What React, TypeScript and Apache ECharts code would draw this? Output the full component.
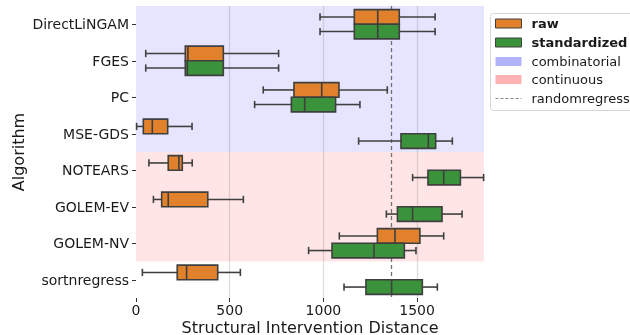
import React, { useEffect, useRef } from 'react';
import * as echarts from 'echarts';

const categories = ['DirectLiNGAM', 'FGES', 'PC', 'MSE-GDS', 'NOTEARS', 'GOLEM-EV', 'GOLEM-NV', 'sortnregress'];
// [whiskerLow, q1, median, q3, whiskerHigh]
const rawStats = [
  [982, 1165, 1290, 1405, 1596],
  [52, 263, 277, 466, 761],
  [679, 843, 991, 1083, 1341],
  [3, 39, 87, 169, 299],
  [69, 172, 229, 247, 300],
  [93, 137, 172, 383, 573],
  [1085, 1288, 1382, 1515, 1642],
  [34, 220, 270, 436, 557],
];
const stdStats = [
  [982, 1165, 1290, 1405, 1596],
  [52, 263, 274, 466, 761],
  [633, 829, 900, 1065, 1195],
  [1188, 1414, 1560, 1599, 1688],
  [1476, 1558, 1642, 1731, 1855],
  [1336, 1395, 1476, 1633, 1740],
  [921, 1046, 1270, 1432, 1494],
  [1110, 1227, 1364, 1528, 1608],
];
const groupNames = ['combinatorial', 'continuous'];
const groupStart = [0, 4];
const groupEnd = [3, 6];
const xTicks = [0, 500, 1000, 1500];
const gridTicks = [500, 1000, 1500];
const randomregress = 1360;
const xMax = 1857;

const ORANGE = '#e1812c';
const GREEN = '#3a923a';
const EDGE = '#3f3f3f';
const BAND_FILL = ['rgba(0,0,255,0.1)', 'rgba(255,0,0,0.1)'];
const LEGEND_FILL = ['rgba(0,0,255,0.3)', 'rgba(255,0,0,0.3)'];
const FONT = 'DejaVu Sans';

function makeBoxRender(side: number, color: string) {
  return (params: any, api: any) => {
    const cat = api.value(0);
    const low = api.coord([api.value(1), cat]);
    const q1 = api.coord([api.value(2), cat]);
    const med = api.coord([api.value(3), cat]);
    const q3 = api.coord([api.value(4), cat]);
    const high = api.coord([api.value(5), cat]);
    const band = api.size([0, 1])[1];
    const h = band * 0.4;
    const yc = low[1] + (side * h) / 2;
    const y0 = yc - h / 2;
    const cap = h / 4;
    const ls = { stroke: EDGE, lineWidth: 1.6 };
    return {
      type: 'group',
      children: [
        { type: 'line', shape: { x1: low[0], y1: yc, x2: q1[0], y2: yc }, style: ls },
        { type: 'line', shape: { x1: q3[0], y1: yc, x2: high[0], y2: yc }, style: ls },
        { type: 'line', shape: { x1: low[0], y1: yc - cap, x2: low[0], y2: yc + cap }, style: ls },
        { type: 'line', shape: { x1: high[0], y1: yc - cap, x2: high[0], y2: yc + cap }, style: ls },
        {
          type: 'rect',
          shape: { x: q1[0], y: y0, width: q3[0] - q1[0], height: h },
          style: { fill: color, stroke: EDGE, lineWidth: 1.6 },
        },
        { type: 'line', shape: { x1: med[0], y1: y0, x2: med[0], y2: y0 + h }, style: ls },
      ],
    };
  };
}

export default function App() {
  const ref = useRef<HTMLDivElement>(null);
  useEffect(() => {
    if (!ref.current) return;
    const chart = echarts.init(ref.current, null, { renderer: 'svg' });
    const legendRows = [
      { label: 'raw', kind: 'patch', fill: ORANGE, edge: true, bold: true },
      { label: 'standardized', kind: 'patch', fill: GREEN, edge: true, bold: true },
      { label: groupNames[0], kind: 'patch', fill: LEGEND_FILL[0], edge: false, bold: false },
      { label: groupNames[1], kind: 'patch', fill: LEGEND_FILL[1], edge: false, bold: false },
      { label: 'randomregress', kind: 'line', fill: '', edge: false, bold: false },
    ];
    const rowY = [10, 29, 48, 66, 85];
    const legendChildren: any[] = [
      {
        type: 'rect',
        shape: { x: 0, y: 0, width: 150, height: 97, r: 3 },
        style: { fill: 'rgba(255,255,255,0.85)', stroke: '#d6d6d6', lineWidth: 1 },
      },
    ];
    legendRows.forEach((r, i) => {
      const y = rowY[i];
      if (r.kind === 'patch') {
        legendChildren.push({
          type: 'rect',
          shape: { x: 5, y: y - 4.5, width: 26, height: 9 },
          style: { fill: r.fill, stroke: r.edge ? EDGE : 'none', lineWidth: r.edge ? 1 : 0 },
        });
      } else {
        legendChildren.push({
          type: 'line',
          shape: { x1: 5, y1: y, x2: 31, y2: y },
          style: { stroke: '#8a8a8a', lineWidth: 1, lineDash: [3, 2] },
        });
      }
      legendChildren.push({
        type: 'text',
        x: 41,
        y,
        style: {
          text: r.label,
          fontFamily: FONT,
          fontSize: 13,
          fontWeight: r.bold ? 'bold' : 'normal',
          fill: '#1a1a1a',
          verticalAlign: 'middle',
          align: 'left',
        },
      });
    });

    chart.setOption({
      animation: false,
      grid: { left: 136, right: 146, top: 6, bottom: 37, outerBoundsMode: 'none', containLabel: false },
      xAxis: {
        type: 'value',
        min: 0,
        max: xMax,
        interval: 500,
        name: 'Structural Intervention Distance',
        nameLocation: 'middle',
        nameGap: 21,
        nameMoveOverlap: false,
        nameTextStyle: { fontFamily: FONT, fontSize: 16, color: '#1a1a1a', lineHeight: 16 },
        axisLine: { show: false },
        axisTick: { show: true, length: 4, lineStyle: { color: '#333' }, customValues: xTicks },
        axisLabel: {
          fontFamily: FONT,
          fontSize: 14,
          lineHeight: 14,
          color: '#1a1a1a',
          margin: 5,
          customValues: xTicks,
          formatter: (v: number) => String(v),
        },
        splitLine: { show: false },
      },
      yAxis: {
        type: 'category',
        data: categories,
        inverse: true,
        name: 'Algorithm',
        nameLocation: 'middle',
        nameGap: 110,
        nameMoveOverlap: false,
        nameTextStyle: { fontFamily: FONT, fontSize: 16, color: '#1a1a1a' },
        axisLine: { show: false },
        axisTick: { show: true, length: 4, alignWithLabel: true, lineStyle: { color: '#333' } },
        axisLabel: { fontFamily: FONT, fontSize: 14, color: '#1a1a1a', margin: 7 },
        splitLine: { show: false },
      },
      series: [
        {
          type: 'custom',
          name: 'bands',
          z: 1,
          silent: true,
          encode: { x: -1, y: [0, 1] },
          data: groupNames.map((_, g) => [groupStart[g], groupEnd[g], g]),
          renderItem: (params: any, api: any) => {
            const s = api.coord([0, api.value(0)]);
            const e = api.coord([0, api.value(1)]);
            const band = api.size([0, 1])[1];
            const cs = params.coordSys;
            const y1 = s[1] - band / 2;
            const y2 = e[1] + band / 2;
            return {
              type: 'rect',
              shape: { x: cs.x, y: y1, width: cs.width, height: y2 - y1 },
              style: { fill: BAND_FILL[api.value(2)] },
            };
          },
          markLine: {
            silent: true,
            symbol: 'none',
            label: { show: false },
            data: [
              ...gridTicks.map((v) => ({ xAxis: v, lineStyle: { color: 'rgba(0,0,0,0.13)', width: 1.3, type: 'solid' } })),
              { xAxis: randomregress, lineStyle: { color: '#707070', width: 1.3, type: [4, 3] } },
            ],
          },
        },
        {
          type: 'custom',
          name: 'raw',
          z: 10,
          encode: { x: [1, 2, 3, 4, 5], y: 0 },
          data: rawStats.map((s, i) => [i, ...s]),
          renderItem: makeBoxRender(-1, ORANGE),
        },
        {
          type: 'custom',
          name: 'standardized',
          z: 10,
          encode: { x: [1, 2, 3, 4, 5], y: 0 },
          data: stdStats.map((s, i) => [i, ...s]),
          renderItem: makeBoxRender(1, GREEN),
        },
      ],
      graphic: [{ type: 'group', left: 490, top: 13, z: 100, children: legendChildren }],
    });
    return () => chart.dispose();
  }, []);
  return <div ref={ref} style={{ position: 'fixed', left: 0, top: 0, width: 630, height: 335 }} />;
}
